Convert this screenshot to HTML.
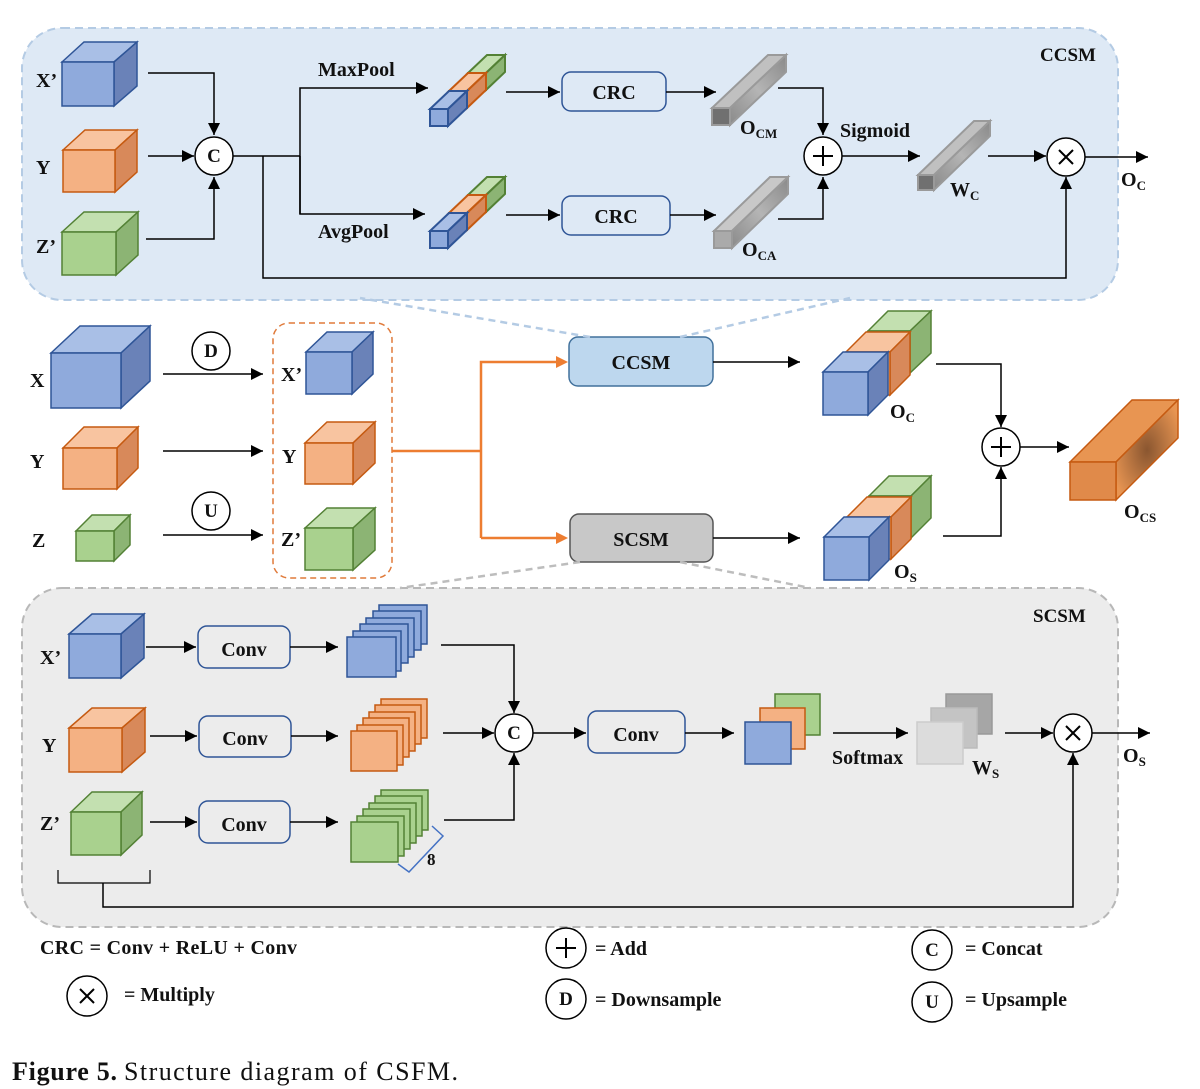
<!DOCTYPE html>
<html><head><meta charset="utf-8"><style>
html,body{margin:0;padding:0;background:#fff}
svg{display:block}
text{font-family:"Liberation Serif",serif;font-weight:bold;fill:#111}
</style></head><body>
<svg width="1200" height="1089" viewBox="0 0 1200 1089" xmlns="http://www.w3.org/2000/svg">
<defs>
<marker id="ar" viewBox="0 0 10 10" refX="10" refY="5" markerWidth="14" markerHeight="12" markerUnits="userSpaceOnUse" orient="auto"><path d="M0,0L10,5L0,10z" fill="#000"/></marker>
<linearGradient id="gg" x1="0" y1="1" x2="1" y2="0"><stop offset="0" stop-color="#8a8a8a"/><stop offset=".5" stop-color="#b5b5b5"/><stop offset="1" stop-color="#8a8a8a"/></linearGradient>
<radialGradient id="og" cx=".5" cy=".5" r=".6"><stop offset="0" stop-color="#8a5630"/><stop offset="1" stop-color="#e89552"/></radialGradient>
</defs>

<rect x="22" y="28" width="1096" height="272" rx="40" fill="#dee9f5" stroke="#b4cbe4" stroke-width="2" stroke-dasharray="8,5"/>
<rect x="22" y="588" width="1096" height="339" rx="40" fill="#ececec" stroke="#b8b8b8" stroke-width="2" stroke-dasharray="8,5"/>
<text x="1040" y="61" font-size="19">CCSM</text>
<text x="1033" y="622" font-size="19">SCSM</text>

<g stroke-width="1.5">
<polygon points="62,62 84,42 137,42 114,62" fill="#a9bfe6" stroke="#2f5597"/><polygon points="114,62 137,42 137,86 114,106" fill="#6a82b8" stroke="#2f5597"/><rect x="62" y="62" width="52" height="44" fill="#8faadc" stroke="#2f5597"/>
<polygon points="63,150 85,130 137,130 115,150" fill="#f8c4a0" stroke="#c55a11"/><polygon points="115,150 137,130 137,172 115,192" fill="#d8895a" stroke="#c55a11"/><rect x="63" y="150" width="52" height="42" fill="#f4b183" stroke="#c55a11"/>
<polygon points="62,232 84,212 138,212 116,232" fill="#c3e0b0" stroke="#538135"/><polygon points="116,232 138,212 138,255 116,275" fill="#8cb474" stroke="#538135"/><rect x="62" y="232" width="54" height="43" fill="#a9d18e" stroke="#538135"/>
<polygon points="51,353 80,326 150,326 121,353" fill="#a9bfe6" stroke="#2f5597"/><polygon points="121,353 150,326 150,381 121,408" fill="#6a82b8" stroke="#2f5597"/><rect x="51" y="353" width="70" height="55" fill="#8faadc" stroke="#2f5597"/>
<polygon points="63,448 84,427 138,427 117,448" fill="#f8c4a0" stroke="#c55a11"/><polygon points="117,448 138,427 138,468 117,489" fill="#d8895a" stroke="#c55a11"/><rect x="63" y="448" width="54" height="41" fill="#f4b183" stroke="#c55a11"/>
<polygon points="76,531 92,515 130,515 114,531" fill="#c3e0b0" stroke="#538135"/><polygon points="114,531 130,515 130,545 114,561" fill="#8cb474" stroke="#538135"/><rect x="76" y="531" width="38" height="30" fill="#a9d18e" stroke="#538135"/>
<polygon points="306,352 327,332 373,332 352,352" fill="#a9bfe6" stroke="#2f5597"/><polygon points="352,352 373,332 373,374 352,394" fill="#6a82b8" stroke="#2f5597"/><rect x="306" y="352" width="46" height="42" fill="#8faadc" stroke="#2f5597"/>
<polygon points="305,443 327,422 375,422 353,443" fill="#f8c4a0" stroke="#c55a11"/><polygon points="353,443 375,422 375,463 353,484" fill="#d8895a" stroke="#c55a11"/><rect x="305" y="443" width="48" height="41" fill="#f4b183" stroke="#c55a11"/>
<polygon points="305,528 327,508 375,508 353,528" fill="#c3e0b0" stroke="#538135"/><polygon points="353,528 375,508 375,550 353,570" fill="#8cb474" stroke="#538135"/><rect x="305" y="528" width="48" height="42" fill="#a9d18e" stroke="#538135"/>
<polygon points="69,634 92,614 144,614 121,634" fill="#a9bfe6" stroke="#2f5597"/><polygon points="121,634 144,614 144,658 121,678" fill="#6a82b8" stroke="#2f5597"/><rect x="69" y="634" width="52" height="44" fill="#8faadc" stroke="#2f5597"/>
<polygon points="69,728 92,708 145,708 122,728" fill="#f8c4a0" stroke="#c55a11"/><polygon points="122,728 145,708 145,752 122,772" fill="#d8895a" stroke="#c55a11"/><rect x="69" y="728" width="53" height="44" fill="#f4b183" stroke="#c55a11"/>
<polygon points="71,812 92,792 142,792 121,812" fill="#c3e0b0" stroke="#538135"/><polygon points="121,812 142,792 142,835 121,855" fill="#8cb474" stroke="#538135"/><rect x="71" y="812" width="50" height="43" fill="#a9d18e" stroke="#538135"/>

<polygon points="868,331 888,311 931,311 910,331" fill="#c3e0b0" stroke="#538135"/><polygon points="910,331 931,311 931,353 910,373" fill="#8cb474" stroke="#538135"/><rect x="868" y="331" width="42" height="42" fill="#a9d18e" stroke="#538135"/>
<polygon points="846,352 866,332 910,332 890,352" fill="#f8c4a0" stroke="#c55a11"/><polygon points="890,352 910,332 910,375 890,395" fill="#d8895a" stroke="#c55a11"/><rect x="846" y="352" width="44" height="43" fill="#f4b183" stroke="#c55a11"/>
<polygon points="823,372 843,352 888,352 868,372" fill="#a9bfe6" stroke="#2f5597"/><polygon points="868,372 888,352 888,395 868,415" fill="#6a82b8" stroke="#2f5597"/><rect x="823" y="372" width="45" height="43" fill="#8faadc" stroke="#2f5597"/>
<polygon points="869,496 889,476 931,476 911,496" fill="#c3e0b0" stroke="#538135"/><polygon points="911,496 931,476 931,518 911,538" fill="#8cb474" stroke="#538135"/><rect x="869" y="496" width="42" height="42" fill="#a9d18e" stroke="#538135"/>
<polygon points="847,517 867,497 911,497 891,517" fill="#f8c4a0" stroke="#c55a11"/><polygon points="891,517 911,497 911,539 891,559" fill="#d8895a" stroke="#c55a11"/><rect x="847" y="517" width="44" height="42" fill="#f4b183" stroke="#c55a11"/>
<polygon points="824,537 844,517 889,517 869,537" fill="#a9bfe6" stroke="#2f5597"/><polygon points="869,537 889,517 889,560 869,580" fill="#6a82b8" stroke="#2f5597"/><rect x="824" y="537" width="45" height="43" fill="#8faadc" stroke="#2f5597"/>
<polygon points="1070,462 1132,400 1178,400 1116,462" fill="#e89552" stroke="#c55a11"/><polygon points="1116,462 1178,400 1178,438 1116,500" fill="url(#og)" stroke="#c55a11"/><rect x="1070" y="462" width="46" height="38" fill="#e08a4a" stroke="#c55a11"/>

<g stroke-width="2">
<polygon points="468,73 487,55 505,55 486,73" fill="#c3e0b0" stroke="#538135"/><polygon points="486,73 505,55 505,72 486,90" fill="#8cb474" stroke="#538135"/><rect x="468" y="73" width="18" height="17" fill="#a9d18e" stroke="#538135"/>
<polygon points="449,91 468,73 486,73 467,91" fill="#f8c4a0" stroke="#c55a11"/><polygon points="467,91 486,73 486,90 467,108" fill="#d8895a" stroke="#c55a11"/><rect x="449" y="91" width="18" height="17" fill="#f4b183" stroke="#c55a11"/>
<polygon points="430,109 449,91 467,91 448,109" fill="#a9bfe6" stroke="#2f5597"/><polygon points="448,109 467,91 467,108 448,126" fill="#6a82b8" stroke="#2f5597"/><rect x="430" y="109" width="18" height="17" fill="#8faadc" stroke="#2f5597"/>
</g><g stroke-width="2">
<polygon points="468,195 487,177 505,177 486,195" fill="#c3e0b0" stroke="#538135"/><polygon points="486,195 505,177 505,194 486,212" fill="#8cb474" stroke="#538135"/><rect x="468" y="195" width="18" height="17" fill="#a9d18e" stroke="#538135"/>
<polygon points="449,213 468,195 486,195 467,213" fill="#f8c4a0" stroke="#c55a11"/><polygon points="467,213 486,195 486,212 467,230" fill="#d8895a" stroke="#c55a11"/><rect x="449" y="213" width="18" height="17" fill="#f4b183" stroke="#c55a11"/>
<polygon points="430,231 449,213 467,213 448,231" fill="#a9bfe6" stroke="#2f5597"/><polygon points="448,231 467,213 467,230 448,248" fill="#6a82b8" stroke="#2f5597"/><rect x="430" y="231" width="18" height="17" fill="#8faadc" stroke="#2f5597"/>
</g>
<g stroke="#9a9a9a" stroke-width="2">
<polygon points="712,108 768,55 786,55 730,108" fill="#c0c0c0"/><polygon points="730,108 786,55 786,72 730,125" fill="url(#gg)"/><rect x="712" y="108" width="18" height="17" fill="#707070"/>
<polygon points="714,231 770,177 788,177 732,231" fill="#c8c8c8"/><polygon points="732,231 788,177 788,194 732,248" fill="url(#gg)"/><rect x="714" y="231" width="18" height="17" fill="#aaaaaa"/>
<polygon points="918,175 974,121 990,121 934,175" fill="#c0c0c0"/><polygon points="934,175 990,121 990,136 934,190" fill="url(#gg)"/><rect x="918" y="175" width="16" height="15" fill="#707070"/>
</g>

<g fill="#8faadc" stroke="#2f5597"><rect x="379" y="605" width="48" height="39"/><rect x="373" y="611" width="48" height="39"/><rect x="366" y="618" width="48" height="39"/><rect x="360" y="624" width="48" height="39"/><rect x="353" y="631" width="48" height="40"/><rect x="347" y="637" width="49" height="40"/></g>
<g fill="#f4b183" stroke="#c55a11"><rect x="381" y="699" width="46" height="39"/><rect x="375" y="705" width="46" height="39"/><rect x="369" y="712" width="46" height="39"/><rect x="363" y="718" width="46" height="39"/><rect x="357" y="725" width="46" height="40"/><rect x="351" y="731" width="46" height="40"/></g>
<g fill="#a9d18e" stroke="#538135"><rect x="381" y="790" width="47" height="40"/><rect x="375" y="796" width="47" height="40"/><rect x="369" y="803" width="47" height="40"/><rect x="363" y="809" width="47" height="40"/><rect x="357" y="816" width="47" height="40"/><rect x="351" y="822" width="47" height="40"/></g>
<path d="M432,826 L443,836 L409,872 L398,864" fill="none" stroke="#4472c4" stroke-width="1.5"/>
<rect x="775" y="694" width="45" height="41" fill="#a9d18e" stroke="#538135"/><rect x="760" y="708" width="45" height="41" fill="#f4b183" stroke="#c55a11"/><rect x="745" y="722" width="46" height="42" fill="#8faadc" stroke="#2f5597"/>
<rect x="946" y="694" width="46" height="40" fill="#a6a6a6" stroke="#999"/><rect x="931" y="708" width="46" height="40" fill="#c4c4c4" stroke="#bbb"/><rect x="917" y="722" width="46" height="42" fill="#dcdcdc" stroke="#ccc"/>
</g>
<text x="427" y="865" font-size="17">8</text>

<g stroke-width="1.5">
<rect x="562" y="72" width="104" height="39" rx="9" fill="#dee9f5" stroke="#2f5597"/>
<rect x="562" y="196" width="108" height="39" rx="9" fill="#dee9f5" stroke="#2f5597"/>
<rect x="569" y="337" width="144" height="49" rx="9" fill="#bdd7ee" stroke="#41719c"/>
<rect x="570" y="514" width="143" height="48" rx="9" fill="#c8c8c8" stroke="#555"/>
<rect x="198" y="626" width="92" height="42" rx="9" fill="#ececec" stroke="#2f5597"/>
<rect x="199" y="716" width="92" height="41" rx="9" fill="#ececec" stroke="#2f5597"/>
<rect x="199" y="801" width="91" height="42" rx="9" fill="#ececec" stroke="#2f5597"/>
<rect x="588" y="711" width="97" height="42" rx="9" fill="#ececec" stroke="#2f5597"/>
<rect x="273" y="323" width="119" height="255" rx="16" fill="none" stroke="#e07a3a" stroke-width="1.5" stroke-dasharray="6,4"/>
</g>
<g font-size="20" text-anchor="middle">
<text x="614" y="99">CRC</text><text x="616" y="223">CRC</text>
<text x="641" y="369">CCSM</text><text x="641" y="546">SCSM</text>
<text x="244" y="656">Conv</text><text x="245" y="745">Conv</text><text x="244" y="831">Conv</text><text x="636" y="741">Conv</text>
</g>

<g fill="none" stroke="#000" stroke-width="1.5">
<path d="M148,73H214V135" marker-end="url(#ar)"/>
<path d="M148,156H194" marker-end="url(#ar)"/>
<path d="M146,239H214V177" marker-end="url(#ar)"/>
<path d="M233,156H300"/>
<path d="M300,214V88H428" marker-end="url(#ar)"/>
<path d="M300,156V214H425" marker-end="url(#ar)"/>
<path d="M263,156V278H1066V177" marker-end="url(#ar)"/>
<path d="M506,92H560" marker-end="url(#ar)"/>
<path d="M666,92H716" marker-end="url(#ar)"/>
<path d="M506,215H560" marker-end="url(#ar)"/>
<path d="M670,215H716" marker-end="url(#ar)"/>
<path d="M778,88H823V135" marker-end="url(#ar)"/>
<path d="M778,219H823V177" marker-end="url(#ar)"/>
<path d="M842,156H920" marker-end="url(#ar)"/>
<path d="M988,156H1046" marker-end="url(#ar)"/>
<path d="M1085,157H1148" marker-end="url(#ar)"/>
<path d="M163,374H263" marker-end="url(#ar)"/>
<path d="M163,451H263" marker-end="url(#ar)"/>
<path d="M163,535H263" marker-end="url(#ar)"/>
<path d="M713,362H800" marker-end="url(#ar)"/>
<path d="M713,538H800" marker-end="url(#ar)"/>
<path d="M936,364H1001V427" marker-end="url(#ar)"/>
<path d="M943,536H1001V467" marker-end="url(#ar)"/>
<path d="M1020,447H1069" marker-end="url(#ar)"/>
<path d="M146,647H196" marker-end="url(#ar)"/>
<path d="M290,647H338" marker-end="url(#ar)"/>
<path d="M150,736H197" marker-end="url(#ar)"/>
<path d="M291,736H338" marker-end="url(#ar)"/>
<path d="M150,822H197" marker-end="url(#ar)"/>
<path d="M290,822H338" marker-end="url(#ar)"/>
<path d="M441,645H514V713" marker-end="url(#ar)"/>
<path d="M443,733H494" marker-end="url(#ar)"/>
<path d="M444,820H514V753" marker-end="url(#ar)"/>
<path d="M533,733H586" marker-end="url(#ar)"/>
<path d="M685,733H734" marker-end="url(#ar)"/>
<path d="M833,733H908" marker-end="url(#ar)"/>
<path d="M1005,733H1053" marker-end="url(#ar)"/>
<path d="M1092,733H1150" marker-end="url(#ar)"/>
<path d="M58,870V883H150V870" stroke-width="1.2"/>
<path d="M103,883V907H1073V753" marker-end="url(#ar)"/>
</g>
<g fill="none" stroke="#ed7d31" stroke-width="2.5">
<path d="M392,451H481"/><path d="M481,538V362H556"/><path d="M481,538H556"/>
<path d="M556,356L568,362L556,368z" fill="#ed7d31" stroke="none"/>
<path d="M556,532L568,538L556,544z" fill="#ed7d31" stroke="none"/>
</g>
<g fill="none" stroke-width="2.5" stroke-dasharray="7,5">
<path d="M590,337L360,298" stroke="#b4cbe4"/><path d="M680,337L850,298" stroke="#b4cbe4"/>
<path d="M580,562L400,588" stroke="#bdbdbd"/><path d="M680,562L810,588" stroke="#bdbdbd"/>
</g>

<g fill="#fff" stroke="#000" stroke-width="1.5">
<circle cx="214" cy="156" r="19"/><circle cx="823" cy="156" r="19"/><circle cx="1066" cy="157" r="19"/>
<circle cx="1001" cy="447" r="19"/><circle cx="514" cy="733" r="19"/><circle cx="1073" cy="733" r="19"/>
<circle cx="211" cy="351" r="19"/><circle cx="211" cy="511" r="19"/>
<circle cx="566" cy="948" r="20"/><circle cx="566" cy="999" r="20"/><circle cx="87" cy="996" r="20"/>
<circle cx="932" cy="950" r="20"/><circle cx="932" cy="1002" r="20"/>
</g>
<g stroke="#000" stroke-width="2" fill="none">
<path d="M823,146V166M813,156H833"/><path d="M1001,437V457M991,447H1011"/><path d="M566,938V958M556,948H576"/>
<path d="M1059,150L1073,164M1073,150L1059,164"/><path d="M1066,726L1080,740M1080,726L1066,740"/><path d="M80,989L94,1003M94,989L80,1003"/>
</g>
<g font-size="19" text-anchor="middle">
<text x="214" y="162">C</text><text x="514" y="739">C</text><text x="211" y="357">D</text><text x="211" y="517">U</text>
<text x="566" y="1005">D</text><text x="932" y="956">C</text><text x="932" y="1008">U</text>
</g>

<g font-size="20">
<text x="36" y="87">X’</text><text x="36" y="174">Y</text><text x="36" y="253">Z’</text>
<text x="318" y="76">MaxPool</text><text x="318" y="238">AvgPool</text>
<text x="840" y="137">Sigmoid</text>
<text x="740" y="134">O<tspan font-size="13" dy="4">CM</tspan></text>
<text x="742" y="256">O<tspan font-size="13" dy="4">CA</tspan></text>
<text x="950" y="196">W<tspan font-size="13" dy="4">C</tspan></text>
<text x="1121" y="186">O<tspan font-size="13" dy="4">C</tspan></text>
<text x="30" y="387">X</text><text x="30" y="468">Y</text><text x="32" y="547">Z</text>
<text x="281" y="381">X’</text><text x="282" y="463">Y</text><text x="281" y="546">Z’</text>
<text x="890" y="418">O<tspan font-size="13" dy="4">C</tspan></text>
<text x="894" y="578">O<tspan font-size="13" dy="4">S</tspan></text>
<text x="1124" y="518">O<tspan font-size="13" dy="4">CS</tspan></text>
<text x="40" y="664">X’</text><text x="42" y="752">Y</text><text x="40" y="830">Z’</text>
<text x="832" y="764">Softmax</text>
<text x="972" y="774">W<tspan font-size="13" dy="4">S</tspan></text>
<text x="1123" y="762">O<tspan font-size="13" dy="4">S</tspan></text>
<text x="40" y="954" textLength="257">CRC = Conv + ReLU + Conv</text>
<text x="124" y="1001">= Multiply</text>
<text x="595" y="955">= Add</text><text x="595" y="1006">= Downsample</text>
<text x="965" y="955">= Concat</text><text x="965" y="1006">= Upsample</text>
</g>
<text x="12" y="1080" font-size="26" textLength="105">Figure 5.</text>
<text x="124" y="1080" font-size="26" style="font-weight:normal" textLength="334">Structure diagram of CSFM.</text>
</svg>
</body></html>
